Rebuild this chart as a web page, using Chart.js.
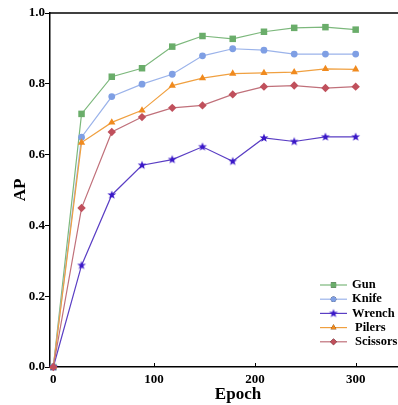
<!DOCTYPE html>
<html>
<head>
<meta charset="utf-8">
<script src="https://cdn.jsdelivr.net/npm/chart.js@4"></script>
<style>
  html, body { margin: 0; padding: 0; background: #fff; }
  #wrap { width: 398px; height: 405px; position: relative; }
</style>
</head>
<body>
<div id="wrap"><canvas id="chart" width="398" height="405"></canvas></div>
<script>
const epochs = [0, 28, 58, 88, 118, 148, 178, 209, 239, 270, 300];
const gun = [0, 0.715, 0.820, 0.844, 0.905, 0.935, 0.927, 0.947, 0.958, 0.960, 0.953];
const knife = [0, 0.649, 0.764, 0.799, 0.827, 0.879, 0.899, 0.895, 0.884, 0.884, 0.884];
const wrench = [0, 0.287, 0.486, 0.570, 0.586, 0.622, 0.581, 0.647, 0.637, 0.650, 0.650];
const pilers = [0, 0.634, 0.691, 0.725, 0.795, 0.816, 0.829, 0.831, 0.833, 0.842, 0.841];
const scissors = [0, 0.449, 0.664, 0.706, 0.732, 0.739, 0.770, 0.792, 0.795, 0.788, 0.792];
const seriesNames = ["Gun", "Knife", "Wrench", "Pilers", "Scissors"];
const xTicks = [0, 100, 200, 300];
const yTicks = [0, 0.2, 0.4, 0.6, 0.8, 1.0];

const SERIF = "'Liberation Serif', 'Times New Roman', serif";

function starImage(r, color) {
  const c = document.createElement("canvas");
  const s = Math.ceil(r * 2 + 2);
  c.width = s; c.height = s;
  const g = c.getContext("2d");
  g.fillStyle = color;
  g.beginPath();
  for (let i = 0; i < 10; i++) {
    const rad = i % 2 === 0 ? r : r * 0.42;
    const a = -Math.PI / 2 + (i * Math.PI) / 5;
    const px = s / 2 + rad * Math.cos(a), py = s / 2 + rad * Math.sin(a);
    i === 0 ? g.moveTo(px, py) : g.lineTo(px, py);
  }
  g.closePath();
  g.fill();
  return c;
}

const STYLES = [
  { line: "#7cb87c", fill: "#6aad6a", point: "rect", radius: 4.6 },
  { line: "#9bb3ea", fill: "#7f9fe4", point: "circle", radius: 3.4 },
  { line: "#5a3ec4", fill: "#3a18c8", point: starImage(4.6, "#3a18c8"), radius: 4.6 },
  { line: "#f0a040", fill: "#f08a1e", point: "triangle", radius: 4.2 },
  { line: "#c0707a", fill: "#c0505c", point: "rectRot", radius: 4.2 },
];

const values = [gun, knife, wrench, pilers, scissors];
const datasets = values.map((vals, i) => ({
  label: seriesNames[i],
  data: vals.map((v, j) => ({ x: epochs[j], y: v })),
  borderColor: STYLES[i].line,
  backgroundColor: STYLES[i].fill,
  pointBackgroundColor: STYLES[i].fill,
  pointBorderColor: STYLES[i].fill,
  pointBorderWidth: 0,
  pointStyle: STYLES[i].point,
  pointRadius: STYLES[i].radius,
  borderWidth: 1.2,
  tension: 0,
  clip: false,
  order: 5 - i,
}));

// axes frame, inward x ticks, x title and the legend
const decor = {
  id: "decor",
  afterDraw(chart) {
    const { ctx, chartArea: a, scales } = chart;
    ctx.save();
    ctx.strokeStyle = "#000";
    ctx.lineWidth = 1.5;
    ctx.beginPath();
    ctx.moveTo(a.left, a.top); ctx.lineTo(a.right, a.top);
    ctx.stroke();
    ctx.lineWidth = 1;
    xTicks.slice(1).forEach((v) => {
      const x = Math.round(scales.x.getPixelForValue(v)) + 0.5;
      ctx.beginPath();
      ctx.moveTo(x, a.bottom); ctx.lineTo(x, a.bottom - 4);
      ctx.stroke();
    });

    ctx.fillStyle = "#000";
    ctx.font = "bold 17px " + SERIF;
    ctx.textAlign = "center";
    ctx.textBaseline = "middle";
    ctx.fillText("Epoch", 238, 395);

    ctx.font = "bold 12.5px " + SERIF;
    ctx.textAlign = "left";
    seriesNames.forEach((name, i) => {
      const y = 285 + i * 14.2;
      const st = STYLES[i];
      ctx.strokeStyle = st.line;
      ctx.lineWidth = 1.2;
      ctx.beginPath();
      ctx.moveTo(320, y); ctx.lineTo(347, y);
      ctx.stroke();
      Chart.helpers.drawPoint(ctx, {
        pointStyle: st.point,
        radius: st.radius * 0.8,
        borderWidth: 0,
        rotation: 0,
      }, 333.5, y);
      ctx.fillStyle = st.fill;
      ctx.fill();
      ctx.fillStyle = "#000";
      ctx.fillText(name, i < 3 ? 352 : 355, y);
    });
    ctx.restore();
  },
};

new Chart(document.getElementById("chart"), {
  type: "line",
  data: { datasets },
  options: {
    responsive: false,
    animation: false,
    layout: { autoPadding: false, padding: { top: 13, right: 0, left: 0, bottom: 0 } },
    plugins: { legend: { display: false }, tooltip: { enabled: false } },
    scales: {
      x: {
        type: "linear",
        min: -3.3,
        max: 342,
        afterBuildTicks: (s) => { s.ticks = xTicks.map((v) => ({ value: v })); },
        afterFit: (s) => { s.height = 38; },
        grid: { display: false, drawTicks: false },
        border: { color: "#000", width: 1.5 },
        ticks: {
          color: "#000",
          padding: 5,
          font: { family: SERIF, size: 13, weight: "bold" },
          maxRotation: 0,
        },
      },
      y: {
        min: 0,
        max: 1,
        afterBuildTicks: (s) => { s.ticks = yTicks.map((v) => ({ value: v })); },
        afterFit: (s) => { s.width = 50; },
        grid: { drawOnChartArea: false, drawTicks: true, tickLength: 5, color: "#000" },
        border: { color: "#000", width: 1.5 },
        ticks: {
          color: "#000",
          padding: 0,
          font: { family: SERIF, size: 13, weight: "bold" },
          callback: (v) => Number(v).toFixed(1),
        },
        title: {
          display: true,
          text: "AP",
          color: "#000",
          padding: { top: 10, bottom: 0 },
          font: { family: SERIF, size: 17, weight: "bold" },
        },
      },
    },
  },
  plugins: [decor],
});
</script>
</body>
</html>
